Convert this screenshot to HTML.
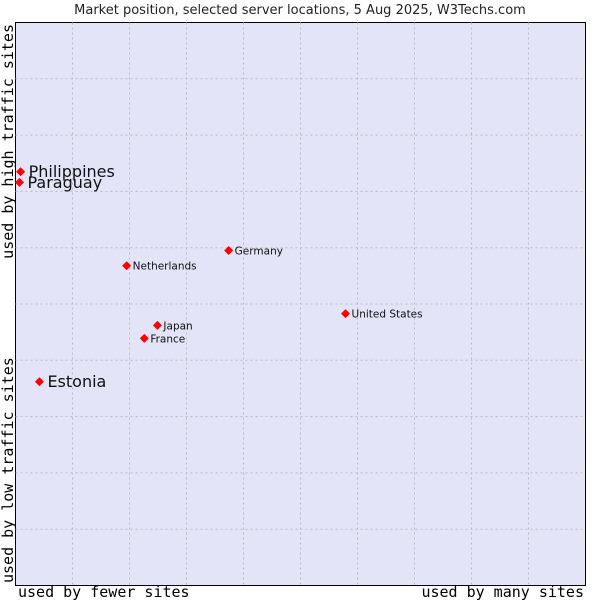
<!DOCTYPE html>
<html><head><meta charset="utf-8"><style>
body{margin:0;background:#fff;width:600px;height:600px;overflow:hidden}
.sans{font-family:"DejaVu Sans","Liberation Sans",sans-serif}
.mono{font-family:"DejaVu Sans Mono","Liberation Mono",monospace}
</style></head><body>
<svg id="chart" width="600" height="600">
<text class="sans" x="300" y="14" text-anchor="middle" font-size="13" fill="#222">Market position, selected server locations, 5 Aug 2025, W3Techs.com</text>
<rect x="15.5" y="22.5" width="570" height="563" fill="#e3e4f8" stroke="#000"/>
<g id="grid"></g>
<g id="points"></g>
<text class="mono" x="18" y="597" font-size="15">used by fewer sites</text>
<text class="mono" x="584" y="597" text-anchor="end" font-size="15">used by many sites</text>
<text class="mono" transform="translate(13,583) rotate(-90)" font-size="15">used by low traffic sites</text>
<text class="mono" transform="translate(13,24) rotate(-90)" text-anchor="end" font-size="15">used by high traffic sites</text>
</svg>
<script>
const countries=["Philippines","Paraguay","Estonia","Netherlands","Germany","United States","Japan","France"];
const xValues=[0.9,0.7,4.2,19.5,37.4,57.9,24.9,22.6];
const yValues=[73.5,71.6,36.2,56.8,59.5,48.3,46.2,43.9];
const big=[true,true,true,false,false,false,false,false];
const X0=15.5,X1=585.5,Y0=585.5,Y1=22.5;
const sx=v=>X0+(X1-X0)*v/100, sy=v=>Y0-(Y0-Y1)*v/100;
const NS="http://www.w3.org/2000/svg";
const g=document.getElementById('grid');
for(let i=1;i<10;i++){
 const l=document.createElementNS(NS,'line');
 l.setAttribute('x1',sx(i*10));l.setAttribute('x2',sx(i*10));l.setAttribute('y1',Y1);l.setAttribute('y2',Y0);
 l.setAttribute('stroke','#bbb');l.setAttribute('stroke-dasharray','2,3');
 
 
 g.appendChild(l);
 const h=document.createElementNS(NS,'line');
 h.setAttribute('y1',sy(i*10));h.setAttribute('y2',sy(i*10));h.setAttribute('x1',X0);h.setAttribute('x2',X1);
 h.setAttribute('stroke','#bbb');h.setAttribute('stroke-dasharray','2,3');
 
 
 g.appendChild(h);
}
const p=document.getElementById('points');
countries.forEach((c,i)=>{
 const x=sx(xValues[i]),y=sy(yValues[i]);
 const d=document.createElementNS(NS,'path');
 d.setAttribute('d',`M${x},${y-4.5}L${x+4.5},${y}L${x},${y+4.5}L${x-4.5},${y}Z`);
 d.setAttribute('fill','#f00');
 
 
 p.appendChild(d);
 const t=document.createElementNS(NS,'text');
 t.setAttribute('class','sans');
 t.setAttribute('x',x+(big[i]?8:6));t.setAttribute('y',y+(big[i]?5.5:4));
 t.setAttribute('font-size',big[i]?16:10.5);t.setAttribute('fill','#111');
 t.textContent=c;
 
 
 p.appendChild(t);
});
</script>
</body></html>
